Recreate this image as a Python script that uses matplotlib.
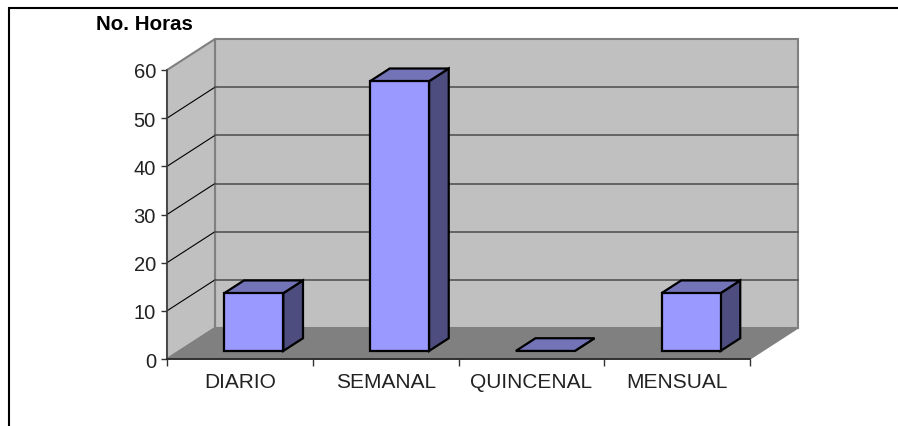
#!/usr/bin/env python
import matplotlib
matplotlib.use("Agg")
import matplotlib.pyplot as plt
from matplotlib.lines import Line2D
from matplotlib.patches import Polygon

categorias = ["DIARIO", "SEMANAL", "QUINCENAL", "MENSUAL"]
horas = [12, 56, 0, 12]
y_ticks = [0, 10, 20, 30, 40, 50, 60]

W, H = 898, 427
plt.rcParams['font.family'] = ['Liberation Sans', 'DejaVu Sans']

fig = plt.figure(figsize=(W / 100, H / 100), dpi=100)
# front plane of the 3d box, in pixels of the picture
left, right, top, bottom = 167, 750, 71, 360
ax = fig.add_axes([left / W, 1 - bottom / H, (right - left) / W, (bottom - top) / H])
ax.set_xlim(0, len(categorias))
ax.set_ylim(0, 60)
ax.patch.set_visible(False)

# depth of the box in data units
dx_box = 48 / ((right - left) / len(categorias))
dy_box = 60 * 31 / (bottom - top)

def pt(x, y, d=0.0):
    return (x + d * dx_box, y + d * dy_box)

def poly(points, color, edge, lw, z):
    ax.add_patch(Polygon(points, closed=True, facecolor=color, edgecolor=edge,
                         linewidth=lw, zorder=z, clip_on=False, joinstyle="miter"))

xmax = len(categorias)
# walls and floor
poly([pt(0, 0, 1), pt(xmax, 0, 1), pt(xmax, 60, 1), pt(0, 60, 1)], "#c0c0c0", "#808080", 1.5, 1)
poly([pt(0, 0), pt(0, 0, 1), pt(0, 60, 1), pt(0, 60)], "#c0c0c0", "#808080", 1.5, 1)
for t in y_ticks[1:-1]:
    ax.plot(*zip(pt(0, t), pt(0, t, 1)), color="black", lw=0.8, zorder=2, clip_on=False)
    ax.plot(*zip(pt(0, t, 1), pt(xmax, t, 1)), color="#555555", lw=1.2, zorder=2, clip_on=False)
poly([pt(0, 0), pt(xmax, 0), pt(xmax, 0, 1), pt(0, 0, 1)], "#808080", "#808080", 1, 3)

# bars
bar_w = 59 / ((right - left) / len(categorias))
d0, d1 = 0.26, 0.67
for i, v in enumerate(horas):
    x0 = i + 0.5 - bar_w / 2 + 0.01
    x1 = x0 + bar_w
    poly([pt(x1, 0, d0), pt(x1, 0, d1), pt(x1, v, d1), pt(x1, v, d0)], "#4d4d80", "black", 1.6, 4)
    poly([pt(x0, v, d0), pt(x1, v, d0), pt(x1, v, d1), pt(x0, v, d1)], "#7373b8", "black", 1.6, 5)
    if v > 0:
        poly([pt(x0, 0, d0), pt(x1, 0, d0), pt(x1, v, d0), pt(x0, v, d0)], "#9999ff", "black", 1.6, 6)

# axes
for s in ["top", "right"]:
    ax.spines[s].set_visible(False)
ax.spines["left"].set_color("#404040")
ax.spines["bottom"].set_color("#202020")
ax.spines["left"].set_linewidth(1.2)
ax.spines["bottom"].set_linewidth(1.2)
ax.spines["left"].set_zorder(7)
ax.spines["bottom"].set_zorder(7)
ax.set_yticks(y_ticks)
ax.set_xticks(range(xmax + 1))
ax.set_xticklabels([])
ax.set_xticks([i + 0.5 for i in range(xmax)], minor=True)
ax.set_xticklabels(categorias, minor=True, fontsize=15, color="#222222")
ax.tick_params(axis="x", which="minor", length=0, pad=9)
ax.tick_params(axis="x", which="major", length=5, width=1, color="#333333")
ax.tick_params(axis="y", length=4.5, width=1, color="#333333", labelsize=14.5, pad=3.5, labelcolor="#222222")

fig.text(144.5 / W, 1 - 25 / H, "No. Horas", fontsize=14.8, fontweight="bold",
         ha="center", va="center", color="black")

# frame of the pasted picture: only left and top
fig.add_artist(Line2D([9 / W, 9 / W, 1], [0, 1 - 9 / H, 1 - 9 / H], color="black",
                      lw=1.5, solid_joinstyle="miter"))

plt.savefig("out.png", dpi=100)
